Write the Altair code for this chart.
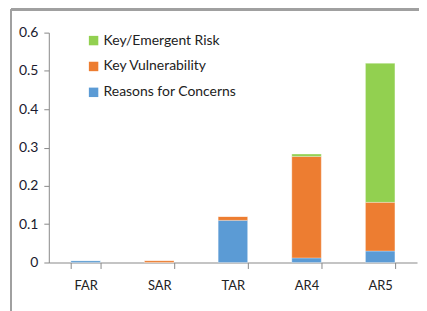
import altair as alt
import pandas as pd

reports = ["FAR", "SAR", "TAR", "AR4", "AR5"]
categories = ["Key/Emergent Risk", "Key Vulnerability", "Reasons for Concerns"]
colors = ["#92D050", "#ED7D31", "#5B9BD5"]
reasons = [0.005, 0.0, 0.110, 0.012, 0.030]
vulnerability = [0.0, 0.005, 0.010, 0.265, 0.127]
emergent = [0.0, 0.0, 0.0, 0.006, 0.363]
y_ticks = [0, 0.1, 0.2, 0.3, 0.4, 0.5, 0.6]

rows = []
for i, r in enumerate(reports):
    rows.append({"report": r, "category": "Reasons for Concerns", "value": reasons[i], "ord": 0})
    rows.append({"report": r, "category": "Key Vulnerability", "value": vulnerability[i], "ord": 1})
    rows.append({"report": r, "category": "Key/Emergent Risk", "value": emergent[i], "ord": 2})
df = pd.DataFrame(rows)

FONT = "Lato"

bars = alt.Chart(df).mark_bar(stroke="white", strokeWidth=0.6, strokeOpacity=0.5).encode(
    x=alt.X("report:N", sort=reports, title=None,
            scale=alt.Scale(paddingInner=0.6, paddingOuter=0.3),
            axis=alt.Axis(labelAngle=0, tickBand="extent", tickSize=6, labelPadding=11,
                          domainColor="#888888", tickColor="#888888",
                          labelFontSize=13, labelColor="#222222", labelFont=FONT)),
    y=alt.Y("value:Q", title=None, stack="zero",
            scale=alt.Scale(domain=[0, 0.6], nice=False),
            axis=alt.Axis(values=y_ticks, grid=False, tickSize=5, labelPadding=6,
                          domainColor="#888888", tickColor="#888888",
                          labelExpr="datum.value == 0 ? '0' : format(datum.value, '.1f')",
                          labelFontSize=14, labelColor="#1a1a2e", labelFont=FONT)),
    color=alt.Color("category:N", sort=categories,
                    scale=alt.Scale(domain=categories, range=colors),
                    legend=alt.Legend(title=None, orient="none", legendX=38, legendY=1,
                                      symbolType="square", symbolSize=90, symbolStrokeWidth=0,
                                      labelFontSize=14, labelFont=FONT, labelColor="#222222",
                                      rowPadding=12, labelOffset=3)),
    order=alt.Order("ord:Q"),
)

border_left = alt.Chart(df).mark_rule(color="#a0a0a0", strokeWidth=1.2).encode(
    x=alt.value(-38), y=alt.value(-23), y2=alt.value(320)
)
border_top = alt.Chart(df).mark_rule(color="#a0a0a0", strokeWidth=2).encode(
    x=alt.value(-38), x2=alt.value(390), y=alt.value(-23)
)

chart = alt.layer(bars, border_left, border_top).properties(
    width=370, height=231,
    padding={"left": 41, "top": 24, "right": 2, "bottom": 50},
    autosize=alt.AutoSizeParams(type="none"),
).configure_view(stroke=None)

chart.save("out.html", embed_options={"renderer": "svg", "actions": False})
